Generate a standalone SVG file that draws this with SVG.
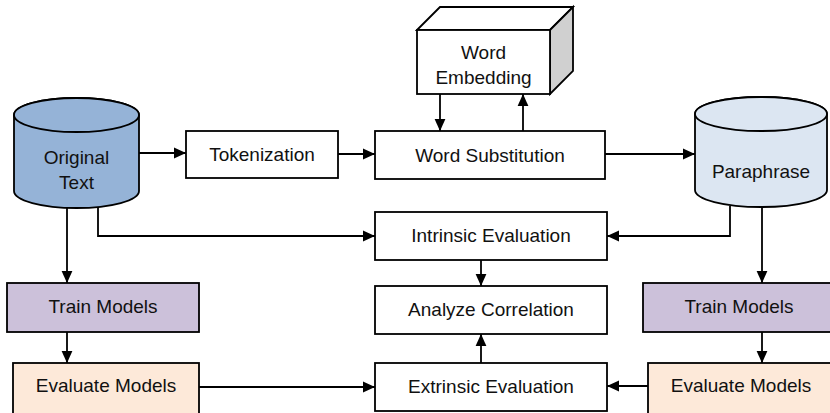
<svg xmlns="http://www.w3.org/2000/svg" width="830" height="413" viewBox="0 0 830 413">
<style>
.box{stroke:#000;stroke-width:1.8}
.t{font-family:"Liberation Sans",Arial,sans-serif;font-size:19px;fill:#111;text-anchor:middle;dominant-baseline:central}
.c{fill:none;stroke:#000;stroke-width:1.8}
</style>
<defs>
<marker id="ah" viewBox="0 0 10 10" refX="10" refY="5" markerWidth="12" markerHeight="12" markerUnits="userSpaceOnUse" orient="auto">
<path d="M0,0.5 L10,5 L0,9.5 z" fill="#000"/>
</marker>
</defs>
<rect width="830" height="413" fill="#fff"/>

<g id="original-text">
<path class="box" d="M14,115 L14,191 A62.5,17 0 0 0 139,191 L139,115 A62.5,17 0 0 0 14,115 Z" fill="#95b3d7"/>
<ellipse class="box" cx="76.5" cy="115" rx="62.5" ry="17" fill="#95b3d7"/>
<text class="t" x="76.5" y="157">Original</text>
<text class="t" x="76.5" y="182">Text</text>
</g>

<g id="tokenization">
<rect class="box" x="186" y="131" width="152" height="47" fill="#fff"/>
<text class="t" x="262" y="154.5">Tokenization</text>
</g>

<g id="word-substitution">
<rect class="box" x="375" y="131" width="230" height="48" fill="#fff"/>
<text class="t" x="490" y="155">Word Substitution</text>
</g>

<g id="word-embedding">
<path class="box" d="M417,30 L440,7 L573,7 L550,30 Z" fill="#fff"/>
<path class="box" d="M550,30 L573,7 L573,71 L550,94 Z" fill="#d0d0d0"/>
<rect class="box" x="417" y="30" width="133" height="64" fill="#fff"/>
<text class="t" x="483.5" y="52">Word</text>
<text class="t" x="483.5" y="77">Embedding</text>
</g>

<g id="paraphrase">
<path class="box" d="M695,114 L695,190 A66,17 0 0 0 827,190 L827,114 A66,17 0 0 0 695,114 Z" fill="#dce6f2"/>
<ellipse class="box" cx="761" cy="114" rx="66" ry="17" fill="#dce6f2"/>
<text class="t" x="761" y="171">Paraphrase</text>
</g>

<g id="intrinsic-evaluation">
<rect class="box" x="375" y="212" width="232" height="48" fill="#fff"/>
<text class="t" x="491" y="235">Intrinsic Evaluation</text>
</g>

<g id="analyze-correlation">
<rect class="box" x="375" y="286" width="232" height="48" fill="#fff"/>
<text class="t" x="491" y="309">Analyze Correlation</text>
</g>

<g id="extrinsic-evaluation">
<rect class="box" x="375" y="363" width="232" height="48" fill="#fff"/>
<text class="t" x="491" y="386">Extrinsic Evaluation</text>
</g>

<g id="train-models-left">
<rect class="box" x="7" y="283" width="192" height="49" fill="#ccc1da"/>
<text class="t" x="103" y="306">Train Models</text>
</g>

<g id="evaluate-models-left">
<rect class="box" x="13" y="363" width="186" height="52" fill="#fde9d9"/>
<text class="t" x="106" y="385">Evaluate Models</text>
</g>

<g id="train-models-right">
<rect class="box" x="643" y="283" width="190" height="49" fill="#ccc1da"/>
<text class="t" x="739" y="306">Train Models</text>
</g>

<g id="evaluate-models-right">
<rect class="box" x="648" y="363" width="185" height="52" fill="#fde9d9"/>
<text class="t" x="741" y="385">Evaluate Models</text>
</g>

<g id="connectors">
<path class="c" d="M139,153 L186,153" marker-end="url(#ah)"/>
<path class="c" d="M338,154 L375,154" marker-end="url(#ah)"/>
<path class="c" d="M605,154 L695,154" marker-end="url(#ah)"/>
<path class="c" d="M440,94 L440,131" marker-end="url(#ah)"/>
<path class="c" d="M523,131 L523,94" marker-end="url(#ah)"/>
<path class="c" d="M98,207 L98,236 L375,236" marker-end="url(#ah)"/>
<path class="c" d="M730,206 L730,236 L607,236" marker-end="url(#ah)"/>
<path class="c" d="M67,207 L67,283" marker-end="url(#ah)"/>
<path class="c" d="M67,332 L67,363" marker-end="url(#ah)"/>
<path class="c" d="M762,207 L762,283" marker-end="url(#ah)"/>
<path class="c" d="M762,332 L762,363" marker-end="url(#ah)"/>
<path class="c" d="M481,260 L481,286" marker-end="url(#ah)"/>
<path class="c" d="M481,363 L481,334" marker-end="url(#ah)"/>
<path class="c" d="M199,387 L375,387" marker-end="url(#ah)"/>
<path class="c" d="M648,386 L607,386" marker-end="url(#ah)"/>
</g>
</svg>
